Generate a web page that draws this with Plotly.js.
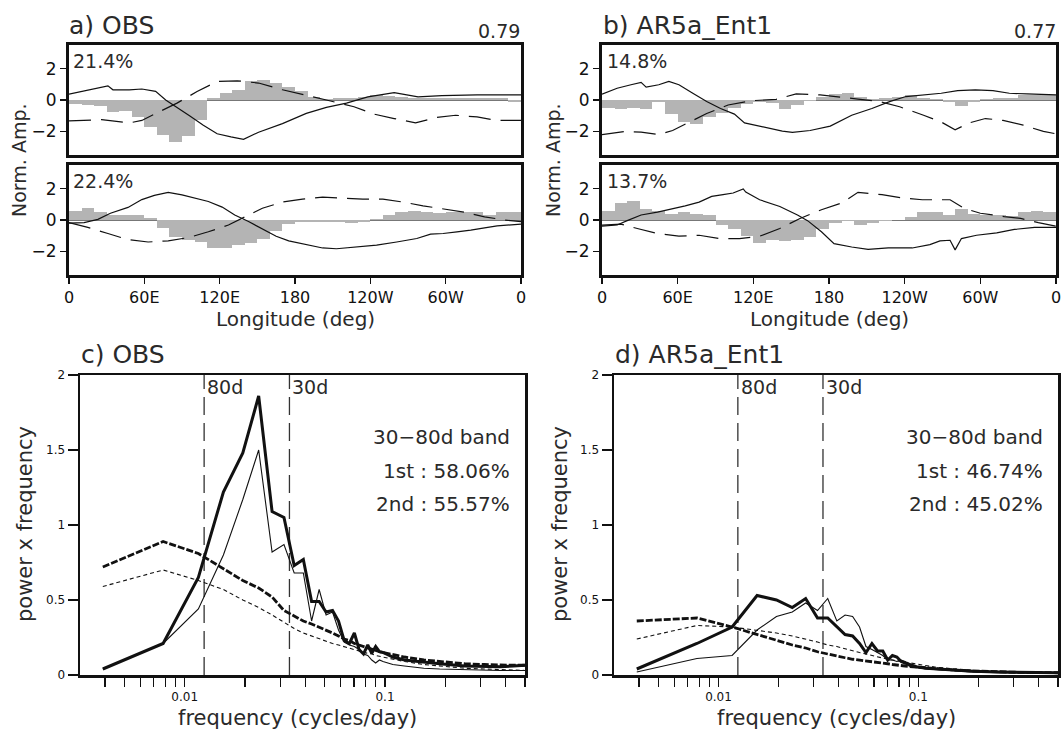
<!DOCTYPE html>
<html><head><meta charset="utf-8">
<script src="https://cdn.plot.ly/plotly-3.0.1.min.js"></script>
<style>html,body{margin:0;padding:0;background:#fff}#chart{width:1063px;height:730px}</style>
</head><body><div id="chart"></div>
<script>
// ---------------- DATA ----------------
// longitude bins (centres, deg) for the shaded field
const binLon = [5,15,25,35,45,55,65,75,85,95,105,115,125,135,145,155,165,175,185,195,205,215,225,235,245,255,265,275,285,295,305,315,325,335,345,355];
const lonTickVals = [0,60,120,180,240,300,360];
const lonTickText = ['0','60E','120E','180','120W','60W','0'];

// a) OBS, mode 1
const aUpperBars = [-0.25,-0.3,-0.35,-0.75,-0.7,-1.1,-1.7,-2.2,-2.7,-2.3,-1.3,0.15,0.45,0.65,1.2,1.3,1.1,0.8,0.55,0.2,0.05,0.1,0.15,0.2,0.3,0.25,0.2,0.15,0.15,0.1,0.1,0.15,0.1,0.1,0.15,-0.1];
const aUpperSolidLon = [0,15,23,31,35,48,58,69,77,86,96,107,118,129,139,151,170,189,205,221,238,259,278,297,325,360];
const aUpperSolid = [0.37,0.65,0.75,0.9,0.65,0.65,0.7,0.55,0,-0.45,-1,-1.6,-2.15,-2.35,-2.5,-2.05,-1.5,-0.85,-0.47,-0.2,0.2,0.47,0.2,0.28,0.32,0.32];
const aUpperDashLon = [0,26,48,58,69,86,102,118,134,151,170,189,205,227,243,259,276,292,308,325,341,360];
const aUpperDash = [-1.33,-1.25,-1.46,-1.3,-0.86,-0.2,0.54,1.18,1.22,1.08,0.65,0.32,0,-0.43,-0.9,-1.18,-1.46,-1.12,-0.97,-1.08,-1.3,-1.3];
// a) OBS, mode 2
const aLowerBars = [0.6,0.75,0.5,0.35,0.35,0.3,0.1,-0.5,-1.1,-1.3,-1.4,-1.75,-1.8,-1.6,-1.45,-1.2,-0.7,-0.25,-0.1,-0.1,-0.1,-0.15,-0.2,-0.15,0.05,0.3,0.5,0.55,0.5,0.45,0.5,0.5,0.5,0.3,0.5,0.5];
const aLowerSolidLon = [0,12,23,33,47,58,68,79,90,100,111,122,132,143,154,165,175,186,202,213,229,245,261,277,288,298,309,320,331,341,360];
const aLowerSolid = [-0.2,-0.17,0.04,0.43,0.8,1.3,1.57,1.76,1.6,1.4,1.18,0.82,0.32,-0.1,-0.54,-1.03,-1.33,-1.5,-1.78,-1.83,-1.72,-1.6,-1.4,-1.18,-0.9,-0.86,-0.75,-0.65,-0.5,-0.37,-0.26];
const aLowerDashLon = [0,15,31,47,63,79,95,111,127,138,154,170,186,202,218,234,250,266,282,298,315,331,347,360];
const aLowerDash = [-0.17,-0.47,-0.86,-1.25,-1.4,-1.33,-1.12,-0.75,-0.32,0.1,0.75,1.14,1.33,1.46,1.4,1.33,1.33,1.14,0.9,0.69,0.5,0.2,0,-0.1];
// b) AR5a_Ent1, mode 1
const bUpperBars = [-0.5,-0.6,-0.5,-0.6,-0.15,-0.9,-1.4,-1.5,-1.1,-0.8,-0.5,-0.25,-0.1,-0.2,-0.6,-0.3,-0.05,0.2,0.4,0.45,0.2,0.05,0.1,0.2,0.3,0.15,0.05,-0.1,-0.35,-0.1,0.05,0.1,0.15,0.3,0.35,0.3];
const bUpperSolidLon = [0,12,23,31,35,45,53,61,72,83,94,105,113,121,132,143,151,165,181,198,214,228,241,255,269,282,296,310,323,337,360];
const bUpperSolid = [0.37,0.75,0.97,1.12,0.82,0.97,1.18,0.97,0.43,-0.1,-0.54,-0.9,-1.46,-1.6,-1.76,-1.98,-2.06,-1.94,-1.66,-0.97,-0.54,-0.1,0.22,0.32,0.43,0.6,0.65,0.6,0.43,0.39,0.32];
const bUpperDashLon = [0,18,31,45,56,67,83,100,119,138,154,173,187,203,220,236,255,269,280,291,304,318,334,350,360];
const bUpperDash = [-2.2,-2,-2.05,-2.2,-1.94,-1.5,-0.86,-0.32,-0.04,0.04,0.39,0.32,0.22,0.06,-0.1,-0.43,-0.97,-1.4,-1.9,-1.46,-1.18,-1.3,-1.6,-2,-2.15];
// b) AR5a_Ent1, mode 2
const bLowerBars = [0.55,1.1,1.2,0.7,0.6,0.4,0.5,0.4,0.3,-0.3,-0.6,-1.0,-1.45,-1.3,-1.35,-1.3,-1.1,-0.6,-0.2,-0.05,-0.3,-0.2,-0.05,0.0,0.2,0.5,0.5,0.3,0.7,0.4,0.35,0.3,0.25,0.5,0.55,0.5];
const bLowerSolidLon = [0,12,20,31,44,55,66,77,87,96,104,112,114,125,141,155,163,174,184,198,211,227,246,260,268,276,280,285,297,313,327,343,360];
const bLowerSolid = [-0.39,-0.32,-0.04,0.32,0.5,0.69,0.9,1.14,1.5,1.61,1.72,1.98,1.78,1.29,0.86,0.32,-0.04,-0.75,-1.5,-1.72,-1.87,-1.78,-1.78,-1.57,-1.33,-1.29,-1.9,-1.18,-0.97,-0.82,-0.6,-0.47,-0.47];
const bLowerDashLon = [0,15,28,44,61,77,93,109,125,141,157,174,190,203,222,238,254,276,287,300,319,332,346,360];
const bLowerDash = [-0.32,-0.26,-0.54,-0.86,-1.03,-0.97,-1.18,-1.18,-1.03,-0.54,0.1,0.65,1.08,1.76,1.61,1.4,1.29,1.29,0.75,0.43,0.22,0.1,-0.17,-0.39];

// spectra: frequency (cycles/day)
const freq = [0.0039,0.0078,0.0117,0.0156,0.0195,0.0234,0.0273,0.0313,0.0352,0.0391,0.043,0.0469,0.0508,0.0547,0.0586,0.0625,0.0664,0.0703,0.0742,0.0781,0.082,0.0859,0.0898,0.0938,0.0977,0.1094,0.125,0.1563,0.1875,0.25,0.3125,0.375,0.4375,0.5];
const cPc1 = [0.04,0.21,0.65,1.22,1.48,1.86,1.09,1.05,0.73,0.77,0.49,0.49,0.42,0.43,0.36,0.23,0.21,0.28,0.17,0.14,0.2,0.145,0.19,0.155,0.15,0.12,0.1,0.085,0.075,0.06,0.055,0.055,0.06,0.065];
const cPc2 = [0.04,0.21,0.44,0.8,1.17,1.5,0.82,0.87,0.68,0.68,0.36,0.57,0.4,0.42,0.3,0.22,0.2,0.19,0.17,0.14,0.13,0.1,0.08,0.1,0.09,0.07,0.06,0.045,0.04,0.035,0.03,0.03,0.03,0.03];
const cRed1 = [0.72,0.89,0.81,0.71,0.63,0.58,0.52,0.43,0.39,0.36,0.34,0.32,0.3,0.28,0.26,0.24,0.23,0.21,0.2,0.19,0.18,0.17,0.16,0.155,0.15,0.135,0.12,0.1,0.09,0.075,0.07,0.065,0.065,0.065];
const cRed2 = [0.59,0.7,0.63,0.57,0.5,0.45,0.4,0.35,0.31,0.28,0.26,0.24,0.225,0.21,0.2,0.19,0.18,0.17,0.16,0.15,0.145,0.14,0.13,0.125,0.12,0.105,0.09,0.07,0.06,0.045,0.04,0.035,0.03,0.03];
const dPc1 = [0.04,0.21,0.32,0.53,0.5,0.45,0.51,0.38,0.38,0.32,0.27,0.26,0.21,0.15,0.21,0.16,0.16,0.1,0.13,0.12,0.09,0.08,0.07,0.06,0.055,0.045,0.04,0.03,0.025,0.02,0.017,0.015,0.015,0.015];
const dPc2 = [0.02,0.11,0.13,0.3,0.39,0.42,0.48,0.43,0.51,0.36,0.4,0.39,0.32,0.19,0.17,0.15,0.13,0.1,0.1,0.09,0.1,0.09,0.06,0.05,0.05,0.04,0.035,0.025,0.02,0.015,0.012,0.01,0.01,0.01];
const dRed1 = [0.36,0.38,0.32,0.27,0.23,0.2,0.18,0.155,0.14,0.125,0.115,0.105,0.1,0.095,0.09,0.085,0.08,0.075,0.07,0.068,0.065,0.06,0.057,0.055,0.05,0.045,0.04,0.032,0.027,0.02,0.018,0.016,0.015,0.015];
const dRed2 = [0.24,0.33,0.32,0.3,0.28,0.26,0.24,0.22,0.2,0.19,0.175,0.16,0.15,0.14,0.13,0.12,0.11,0.105,0.1,0.095,0.09,0.085,0.08,0.075,0.07,0.06,0.05,0.04,0.03,0.02,0.017,0.015,0.013,0.012];

const freqTickVals = [0.004,0.005,0.006,0.007,0.008,0.009,0.01,0.02,0.03,0.04,0.05,0.06,0.07,0.08,0.09,0.1,0.2,0.3,0.4,0.5];
const freqTickText = ['','','','','','','0.01','','','','','','','','','0.1','','','',''];
const bandPeriods = [80, 30];          // days
const bandLabels = ['80d', '30d'];

const titles = ['a) OBS','b) AR5a_Ent1','c) OBS','d) AR5a_Ent1'];
const patternCorr = ['0.79','0.77'];
const varExpl = ['21.4%','22.4%','14.8%','13.7%'];
const bandText = [['30\u221280d band','1st : 58.06%','2nd : 55.57%'],['30\u221280d band','1st : 46.74%','2nd : 45.02%']];

// ---------------- LAYOUT HELPERS ----------------
const W = 1063, H = 730;
const px = v => v / W;
const py = v => 1 - v / H;
const FONT = 'DejaVu Sans, sans-serif';
const INK = '#111';
const TXT = '#2a2a2a';

const traces = [];
function eofPanel(n, bars, sLon, s, dLon, d) {
  const xa = n === 1 ? 'x' : 'x' + n, ya = n === 1 ? 'y' : 'y' + n;
  traces.push({type:'bar', x:binLon, y:bars, width:10, xaxis:xa, yaxis:ya,
    marker:{color:'#b4b4b4', line:{width:0}}, hoverinfo:'skip'});
  traces.push({type:'scatter', mode:'lines', x:sLon, y:s, xaxis:xa, yaxis:ya,
    line:{color:INK, width:1.2}});
  traces.push({type:'scatter', mode:'lines', x:dLon, y:d, xaxis:xa, yaxis:ya,
    line:{color:INK, width:1.2, dash:'22px,10px'}});
}
eofPanel(1, aUpperBars, aUpperSolidLon, aUpperSolid, aUpperDashLon, aUpperDash);
eofPanel(2, aLowerBars, aLowerSolidLon, aLowerSolid, aLowerDashLon, aLowerDash);
eofPanel(3, bUpperBars, bUpperSolidLon, bUpperSolid, bUpperDashLon, bUpperDash);
eofPanel(4, bLowerBars, bLowerSolidLon, bLowerSolid, bLowerDashLon, bLowerDash);

function specPanel(n, pc1, pc2, r1, r2) {
  const xa = 'x' + n, ya = 'y' + n;
  bandPeriods.forEach(p => traces.push({type:'scatter', mode:'lines', x:[1/p, 1/p], y:[0, 2],
    xaxis:xa, yaxis:ya, line:{color:'#333', width:1.3, dash:'18px,8px'}}));
  traces.push({type:'scatter', mode:'lines', x:freq, y:r2, xaxis:xa, yaxis:ya, line:{color:INK, width:1.1, dash:'4px,3px'}});
  traces.push({type:'scatter', mode:'lines', x:freq, y:r1, xaxis:xa, yaxis:ya, line:{color:INK, width:2.8, dash:'7px,2px'}});
  traces.push({type:'scatter', mode:'lines', x:freq, y:pc2, xaxis:xa, yaxis:ya, line:{color:INK, width:1.1}});
  traces.push({type:'scatter', mode:'lines', x:freq, y:pc1, xaxis:xa, yaxis:ya, line:{color:INK, width:3}});
}
specPanel(5, cPc1, cPc2, cRed1, cRed2);
specPanel(6, dPc1, dPc2, dRed1, dRed2);

const boxAxis = {showline:true, mirror:true, linewidth:3, linecolor:INK, showgrid:false, zeroline:false};
function lonAxis(dom, anchor, labels) {
  return Object.assign({}, boxAxis, {domain:dom, anchor:anchor, range:[0,360],
    tickvals:lonTickVals, ticktext:lonTickText, ticks: labels ? 'outside' : '', ticklen:6, tickwidth:1.5,
    tickcolor:INK, showticklabels:labels, tickfont:{family:FONT, size:16, color:INK}});
}
function ampAxis(dom, anchor) {
  return Object.assign({}, boxAxis, {domain:dom, anchor:anchor, range:[-3.5,3.5],
    tickvals:[-2,0,2], ticktext:['\u22122','0','2'], ticks:'outside', ticklen:6, tickwidth:1.5, tickcolor:INK,
    tickfont:{family:FONT, size:17, color:INK},
    zeroline:true, zerolinecolor:'#777', zerolinewidth:1});
}
function freqAxis(dom, anchor) {
  return Object.assign({}, boxAxis, {domain:dom, anchor:anchor, type:'log', linewidth:2.5,
    range:[Math.log10(0.003), Math.log10(0.5)], tickvals:freqTickVals, ticktext:freqTickText,
    ticks:'outside', ticklen:9, tickwidth:1.2, tickcolor:INK, tickfont:{family:FONT, size:12, color:INK}});
}
function powAxis(dom, anchor) {
  return Object.assign({}, boxAxis, {domain:dom, anchor:anchor, range:[0,2], linewidth:2.5,
    tickvals:[0,0.5,1,1.5,2], ticktext:['0','0.5','1','1.5','2'], ticks:'outside', ticklen:10, tickwidth:1.2,
    tickcolor:INK, tickfont:{family:FONT, size:12, color:INK}});
}

const xLeft = [px(69), px(521)], xRight = [px(602), px(1056)];
const yUp = [py(155), py(45)], yLow = [py(275), py(165)];
const xC = [px(80), px(525)], xD = [px(614), px(1058)], ySpec = [py(675), py(375)];

const ann = [];
function txt(text, x, y, size, xanchor, extra) {
  ann.push(Object.assign({text:text, x:x, y:y, xref:'paper', yref:'paper', showarrow:false,
    xanchor:xanchor || 'left', yanchor:'middle', font:{family:FONT, size:size, color:TXT}}, extra || {}));
}
txt(titles[0], px(67), py(25), 25);
txt(titles[1], px(601), py(25), 25);
txt(patternCorr[0], px(522), py(31), 19, 'right');
txt(patternCorr[1], px(1058), py(31), 19, 'right');
txt(varExpl[0], px(71), py(61), 19);
txt(varExpl[1], px(71), py(181), 19);
txt(varExpl[2], px(605), py(61), 19);
txt(varExpl[3], px(605), py(181), 19);
txt('Norm. Amp.', px(19), py(160), 19, 'center', {textangle:-90});
txt('Norm. Amp.', px(553), py(160), 19, 'center', {textangle:-90});
txt('Longitude (deg)', px(295), py(319), 20, 'center');
txt('Longitude (deg)', px(829), py(319), 20, 'center');
txt(titles[2], px(79), py(355), 25);
txt(titles[3], px(613), py(355), 25);
txt('power x frequency', px(25), py(524), 21, 'center', {textangle:-90});
txt('power x frequency', px(560), py(524), 21, 'center', {textangle:-90});
txt('frequency (cycles/day)', px(297), py(718), 21, 'center');
txt('frequency (cycles/day)', px(836), py(718), 21, 'center');
[[xC, 0], [xD, 1]].forEach(([dom, i]) => {
  const right = dom[1] - px(13);
  [437, 471, 504].forEach((yy, j) => txt(bandText[i][j], right, py(yy), 20, 'right'));
});
[5, 6].forEach(n => bandPeriods.forEach((p, j) => ann.push({text:bandLabels[j], x:Math.log10(1/p), y:1.92,
  xref:'x' + n, yref:'y' + n, showarrow:false, xanchor:'left', yanchor:'middle', xshift:1,
  font:{family:FONT, size:19, color:TXT}})));

const layout = {
  width:W, height:H, margin:{l:0, r:0, t:0, b:0}, paper_bgcolor:'#fff', plot_bgcolor:'#fff',
  showlegend:false, bargap:0, barmode:'overlay',
  xaxis: lonAxis(xLeft, 'y', false),   yaxis: ampAxis(yUp, 'x'),
  xaxis2: lonAxis(xLeft, 'y2', true),  yaxis2: ampAxis(yLow, 'x2'),
  xaxis3: lonAxis(xRight, 'y3', false), yaxis3: ampAxis(yUp, 'x3'),
  xaxis4: lonAxis(xRight, 'y4', true), yaxis4: ampAxis(yLow, 'x4'),
  xaxis5: freqAxis(xC, 'y5'), yaxis5: powAxis(ySpec, 'x5'),
  xaxis6: freqAxis(xD, 'y6'), yaxis6: powAxis(ySpec, 'x6'),
  annotations: ann
};
Plotly.newPlot('chart', traces, layout, {staticPlot:true, displayModeBar:false});
</script></body></html>
